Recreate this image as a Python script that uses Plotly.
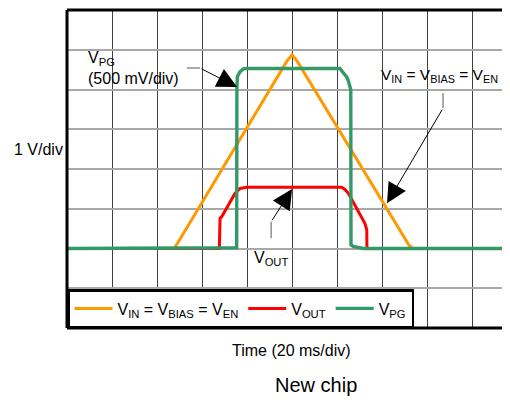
import plotly.graph_objects as go

# time in ms (20 ms/div), voltages in V (1 V/div); VPG is on 500 mV/div
t_vin = [0, 47.5, 49.0, 97.8, 100.0, 102.2, 151.8, 153.5, 193.3]
v_vin = [0, 0, 0.12, 4.72, 4.87, 4.72, 0.1, 0, 0]

t_vout = [0, 67.7, 68.0, 68.75, 74.7, 76.9, 79.9, 122.1, 123.6, 125.0, 126.5, 130.9, 132.4, 133.2, 133.3, 193.3]
v_vout = [0, 0, 0.76, 0.80, 1.39, 1.51, 1.54, 1.54, 1.48, 1.39, 1.24, 0.76, 0.63, 0.47, 0, 0]

t_vpg = [0, 67.5, 68.0, 75.4, 75.5, 75.7, 76.9, 78.4, 79.9, 121.3, 122.8, 124.3, 125.0, 126.1, 126.2, 127.2, 131.7, 193.3]
v_vpg = [0, 0, 0.01, 0.01, 2.015, 2.16, 2.225, 2.26, 2.265, 2.265, 2.21, 2.16, 2.11, 2.0, 0.045, 0.025, 0, 0]

VPG_SCALE = 2  # 500 mV/div shown on the 1 V/div grid

ORANGE = "#FF9900"
RED = "#FF0000"
GREEN = "#339966"
FONT = "Liberation Sans, Arial, sans-serif"

fig = go.Figure()
fig.add_trace(go.Scatter(x=t_vin, y=v_vin, mode="lines", line=dict(color=ORANGE, width=3),
                         name="V<sub>IN</sub> = V<sub>BIAS</sub> = V<sub>EN</sub>"))
fig.add_trace(go.Scatter(x=t_vout, y=v_vout, mode="lines", line=dict(color=RED, width=3),
                         name="V<sub>OUT</sub>"))
fig.add_trace(go.Scatter(x=t_vpg, y=[v * VPG_SCALE for v in v_vpg], mode="lines",
                         line=dict(color=GREEN, width=3.4), name="V<sub>PG</sub>"))

frame = dict(color="black", width=3)
shapes = [
    dict(type="line", xref="paper", yref="paper", x0=0, x1=1, y0=1, y1=1, line=frame),
    dict(type="line", xref="paper", yref="paper", x0=0, x1=1, y0=0, y1=0, line=frame),
    dict(type="line", xref="paper", yref="paper", x0=0, x1=0, y0=0, y1=1, line=frame),
    # bent leader lines
    dict(type="line", x0=53.3, x1=59.1, y0=4.54, y1=4.54, line=dict(color="#555", width=1)),
    dict(type="line", x0=167.1, x1=167.1, y0=3.91, y1=3.53, line=dict(color="#555", width=1)),
    dict(type="line", x0=90.7, x1=90.7, y0=0.26, y1=0.67, line=dict(color="#555", width=1)),
]

def arrow(x, y, ax, ay):
    return dict(x=x, y=y, ax=ax, ay=ay, axref="x", ayref="y", text="", showarrow=True,
                arrowhead=2, arrowsize=4, arrowwidth=1, arrowcolor="black", standoff=0)

annotations = [
    arrow(75.6, 4.06, 59.1, 4.54),
    arrow(142.2, 1.14, 167.1, 3.53),
    arrow(100.0, 1.5, 90.7, 0.67),
    dict(x=8.4, y=4.54, text="V<sub>PG</sub><br>(500 mV/div)", showarrow=False,
         xanchor="left", yanchor="middle", align="left"),
    dict(x=138.8, y=4.36, text="V<sub>IN</sub> = V<sub>BIAS</sub> = V<sub>EN</sub>",
         showarrow=False, xanchor="left", yanchor="middle", font=dict(size=15.5)),
    dict(x=90.7, y=-0.24, text="V<sub>OUT</sub>", showarrow=False, xanchor="center", yanchor="middle"),
    dict(xref="paper", x=-0.1264, y=2.48, text="1 V/div", showarrow=False, xanchor="left", yanchor="middle"),
    dict(xref="paper", yref="paper", x=0.517, y=0, yshift=-22, text="Time (20 ms/div)",
         showarrow=False, xanchor="center", yanchor="middle"),
    dict(xref="paper", yref="paper", x=0.572, y=0, yshift=-57, text="New chip",
         showarrow=False, xanchor="center", yanchor="middle", font=dict(size=20)),
]

# the page body adds an 8 px margin, so the figure starts 8 px in
fig.update_layout(
    width=494, height=395,
    margin=dict(l=59, r=0, t=2, b=75),
    paper_bgcolor="white", plot_bgcolor="white",
    font=dict(family=FONT, size=16, color="black"),
    showlegend=True,
    legend=dict(orientation="h", x=0, y=0, xanchor="left", yanchor="bottom",
                bgcolor="white", bordercolor="black", borderwidth=2.5,
                itemwidth=38, font=dict(size=16)),
    xaxis=dict(range=[0, 193.3], dtick=20, tick0=0, showgrid=True, gridcolor="#404040", gridwidth=1,
               showticklabels=False, ticks="", zeroline=False, showline=False, fixedrange=True),
    yaxis=dict(range=[-2, 6], dtick=1, tick0=0, showgrid=True, gridcolor="#a8a8a8", gridwidth=1.5,
               showticklabels=False, ticks="", zeroline=False, showline=False, fixedrange=True),
    shapes=shapes,
    annotations=annotations,
)

fig.write_html("out.html")
